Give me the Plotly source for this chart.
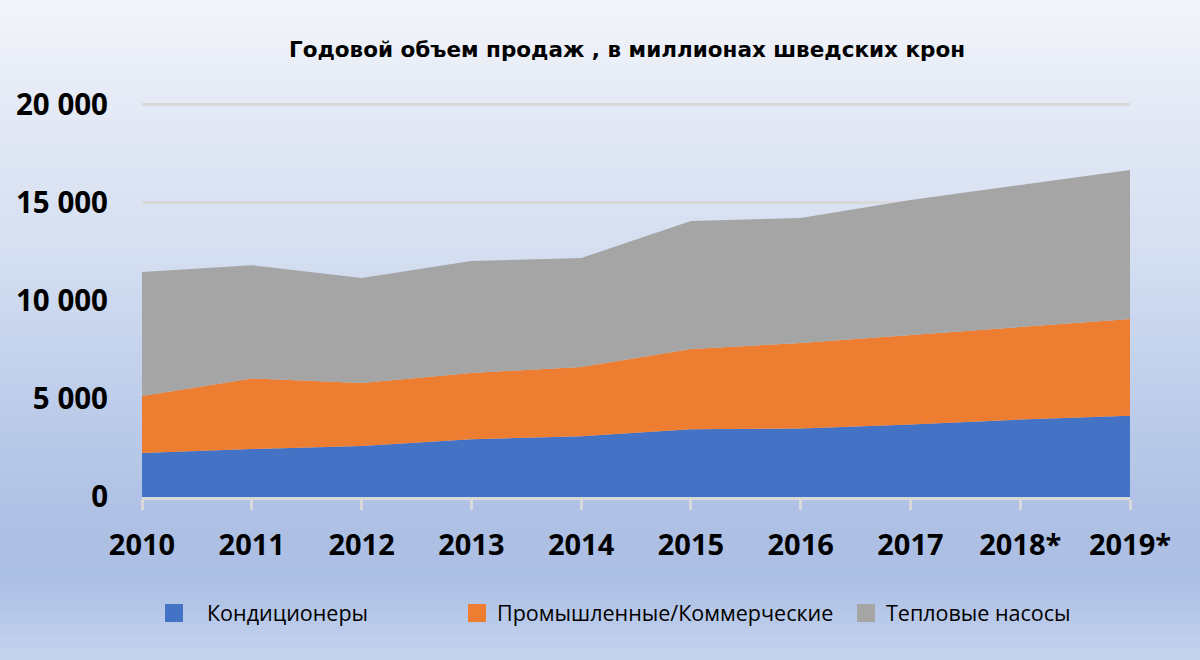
import plotly.graph_objects as go

# ---- data (millions SEK) ----
years = ["2010", "2011", "2012", "2013", "2014", "2015", "2016", "2017", "2018*", "2019*"]
air_conditioners = [2250, 2450, 2600, 2950, 3100, 3450, 3500, 3700, 3950, 4150]
industrial_commercial = [2900, 3600, 3220, 3380, 3530, 4100, 4360, 4560, 4720, 4930]
heat_pumps = [6330, 5770, 5350, 5710, 5560, 6530, 6370, 6890, 7250, 7600]

series_names = ["Кондиционеры", "Промышленные/Коммерческие", "Тепловые насосы"]
series_values = [air_conditioners, industrial_commercial, heat_pumps]
series_colors = ["#4472c4", "#ed7d31", "#a5a5a5"]

y_tickvals = [0, 5000, 10000, 15000, 20000]
y_ticktext = ["0", "5 000", "10 000", "15 000", "20 000"]
title_text = "Годовой объем продаж , в миллионах шведских крон"

# ---- layout geometry (pixels) ----
W, H = 1200, 660
Y_MAX = 20100
L, R, B = 142, 70, 163
ph = round(392 * Y_MAX / 20000)
T = H - B - ph
pw = W - L - R


def px_x(x):
    return (x - L) / pw


def px_y(y):
    return (H - B - y) / ph


fig = go.Figure()

for name, vals, col in zip(series_names, series_values, series_colors):
    fig.add_trace(go.Scatter(
        x=years, y=vals, name=name, stackgroup="one", mode="lines",
        line=dict(width=0, color=col), fillcolor=col, showlegend=False,
        hoverinfo="x+y+name",
    ))

# legend entries (square swatches), each in its own legend for exact placement
legend_ids = ["legend", "legend2", "legend3"]
for name, col, lid in zip(series_names, series_colors, legend_ids):
    fig.add_trace(go.Scatter(
        x=[None], y=[None], name=name, mode="markers",
        marker=dict(symbol="square", size=16, color=col, line=dict(width=2, color=col)),
        legend=lid, showlegend=True,
    ))

# background vertical gradient
stops = [
    (0, (243, 245, 250)),
    (100, (229, 234, 246)),
    (250, (213, 223, 241)),
    (400, (190, 205, 234)),
    (520, (174, 192, 228)),
    (580, (172, 191, 228)),
    (660, (197, 211, 238)),
]


def color_at(y):
    for (y0, c0), (y1, c1) in zip(stops[:-1], stops[1:]):
        if y0 <= y <= y1:
            t = (y - y0) / (y1 - y0) if y1 > y0 else 0
            return "rgb(%d,%d,%d)" % tuple(round(a + (b - a) * t) for a, b in zip(c0, c1))
    return "rgb(%d,%d,%d)" % stops[-1][1]


shapes = []
step = 6
for y in range(0, H, step):
    shapes.append(dict(
        type="rect", xref="paper", yref="paper", layer="below",
        x0=px_x(-2), x1=px_x(W + 2), y0=px_y(y + step + 1), y1=px_y(y),
        fillcolor=color_at(y + step / 2), line=dict(width=0),
    ))

tick_font = dict(family="Open Sans", size=29, color="#000000", weight="bold")
legend_font = dict(family="Open Sans", size=21.5, color="#000000")

fig.update_layout(
    width=W, height=H,
    margin=dict(l=L, r=R, t=T, b=B),
    paper_bgcolor="rgba(0,0,0,0)",
    plot_bgcolor="rgba(0,0,0,0)",
    shapes=shapes,
    title=dict(
        text=title_text, xref="container", yref="container",
        x=627 / W, xanchor="center", y=1 - 49 / H, yanchor="middle",
        font=dict(family="DejaVu Sans", size=21.5, color="#000000", weight="bold"),
    ),
    xaxis=dict(
        type="category", range=[0, len(years) - 1],
        showgrid=False, zeroline=False,
        showline=True, linecolor="#d9d9d9", linewidth=3,
        ticks="outside", ticklen=10, tickwidth=3, tickcolor="#d9d9d9",
        tickfont=tick_font, ticklabelstandoff=10,
    ),
    yaxis=dict(
        range=[0, Y_MAX], tickvals=y_tickvals, ticktext=y_ticktext,
        showgrid=True, gridcolor="#d9d9d9", gridwidth=3,
        zeroline=False, showline=False, ticks="",
        tickfont=dict(family="Open Sans", size=29.5, color="#000000", weight="bold"),
        ticklabelstandoff=33,
    ),
    legend=dict(orientation="h", x=px_x(141), xanchor="left", y=px_y(613), yanchor="middle",
                bgcolor="rgba(0,0,0,0)", font=legend_font, itemwidth=56),
    legend2=dict(orientation="h", x=px_x(457), xanchor="left", y=px_y(613), yanchor="middle",
                 bgcolor="rgba(0,0,0,0)", font=legend_font),
    legend3=dict(orientation="h", x=px_x(846), xanchor="left", y=px_y(613), yanchor="middle",
                 bgcolor="rgba(0,0,0,0)", font=legend_font),
)

fig.write_html(
    "out.html",
    config={"displayModeBar": False},
    post_script="document.body.style.margin='0';document.body.style.overflow='hidden';",
)
